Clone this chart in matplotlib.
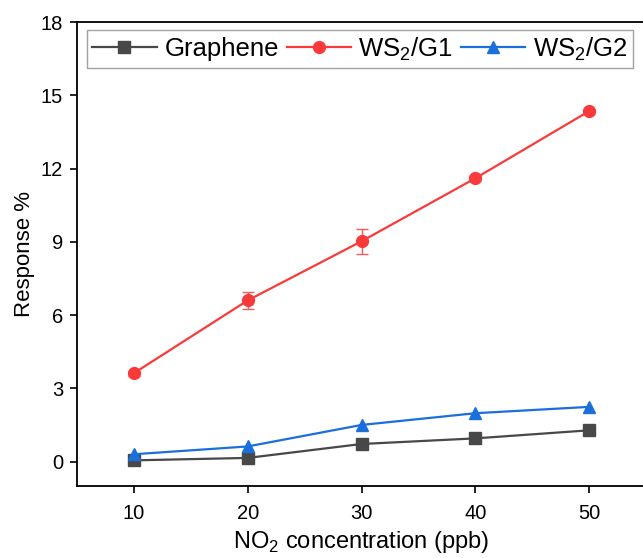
import matplotlib
matplotlib.use("Agg")
import matplotlib.pyplot as plt
from matplotlib.lines import Line2D

plt.rcParams["font.family"] = ["Liberation Sans", "DejaVu Sans"]
plt.rcParams["mathtext.fontset"] = "custom"
plt.rcParams["mathtext.rm"] = "Liberation Sans"

conc = [10, 20, 30, 40, 50]
graphene = [0.05, 0.15, 0.72, 0.95, 1.28]
ws2_g1 = [3.62, 6.60, 9.02, 11.60, 14.35]
ws2_g1_err = [0.10, 0.35, 0.52, 0.10, 0.10]
ws2_g2 = [0.30, 0.62, 1.50, 1.98, 2.24]

fig = plt.figure(figsize=(6.43, 5.58), dpi=100)
ax = fig.add_axes([77 / 643, 72 / 558, 569 / 643, 464 / 558])

styles = [
    ("Graphene", "#484848", "s", 8),
    ("WS$_2$/G1", "#fa3a3a", "o", 8.5),
    ("WS$_2$/G2", "#1a6fdc", "^", 9),
]

ax.plot(conc, graphene, color=styles[0][1], lw=1.6, marker="s", ms=8, zorder=3)
ax.errorbar(conc, ws2_g1, yerr=ws2_g1_err, color=styles[1][1], lw=1.6,
            marker="o", ms=8.5, ecolor="#fa5a5a", elinewidth=1.0,
            capsize=4, capthick=1.0, zorder=3)
ax.plot(conc, ws2_g2, color=styles[2][1], lw=1.6, marker="^", ms=9, zorder=3)

ax.set_xlim(5, 55)
ax.set_ylim(-1, 18)
ax.set_xticks(conc)
ax.set_yticks([0, 3, 6, 9, 12, 15, 18])
ax.tick_params(direction="out", length=5, width=1.2, labelsize=14.5)
ax.tick_params(axis="x", pad=8)
ax.tick_params(axis="y", pad=5)
for spine in ax.spines.values():
    spine.set_linewidth(1.3)

ax.set_xlabel("NO$_2$ concentration (ppb)", fontsize=17, labelpad=4)
ax.set_ylabel("Response %", fontsize=16, labelpad=4)

# legend built from plain line handles so the error bar glyph is left out
handles = [Line2D([], [], color=c, lw=1.6, marker=m, ms=s) for _, c, m, s in styles]
labels = [name for name, _, _, _ in styles]
leg = ax.legend(handles, labels, ncol=3, loc="upper left",
                bbox_to_anchor=(0.018, 0.982), fontsize=18.5,
                frameon=True, fancybox=False, edgecolor="#8a8a8a",
                handlelength=2.5, handletextpad=0.3, columnspacing=0.3,
                borderpad=0.2, borderaxespad=0)
leg.get_frame().set_linewidth(1.0)

fig.savefig("out.png", dpi=100)
